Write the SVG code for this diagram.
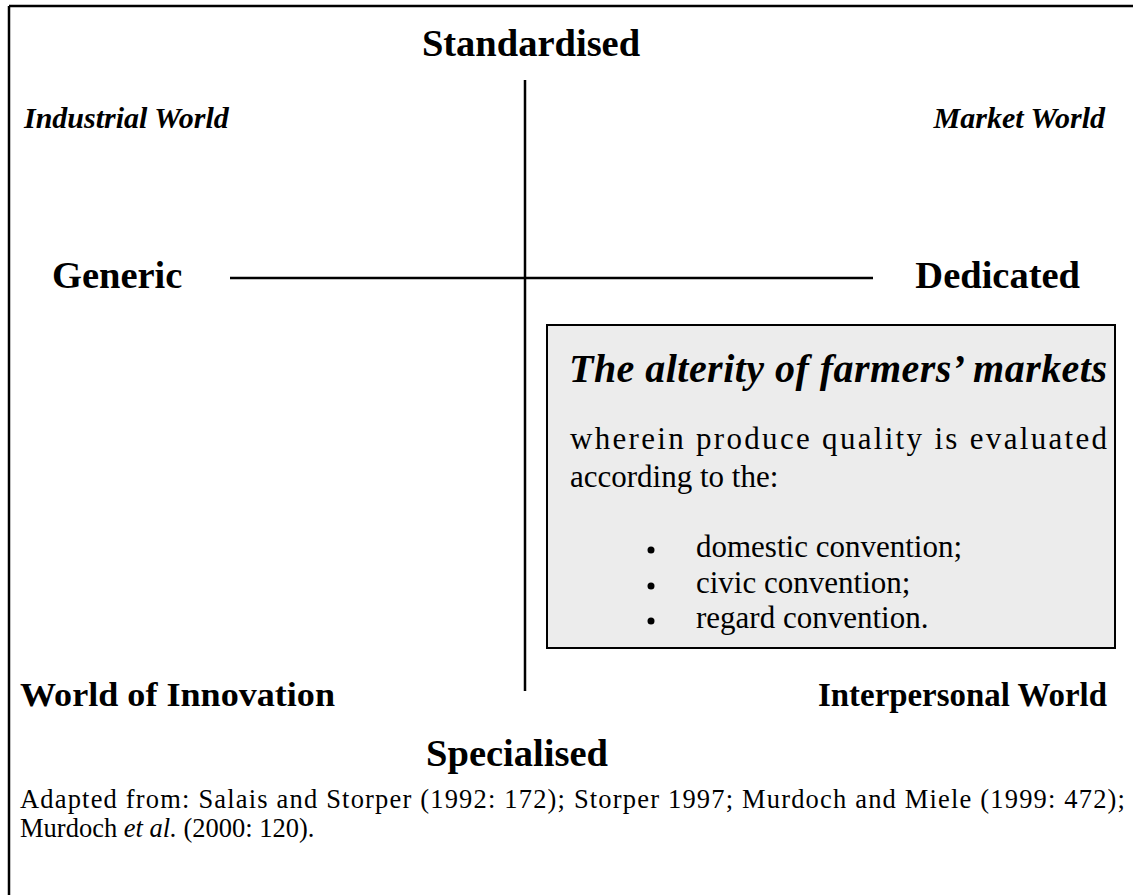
<svg xmlns="http://www.w3.org/2000/svg" width="1133" height="895" viewBox="0 0 1133 895">
  <style>
    .t { font-family: "Liberation Serif", "Times New Roman", serif; fill: #000; }
    .axis { font-size: 38.5px; font-weight: bold; }
    .world { font-size: 30px; font-weight: bold; font-style: italic; }
    .world2 { font-size: 34px; font-weight: bold; }
    .body { font-size: 31px; }
    .note { font-size: 26.5px; }
    .line { stroke: #000; stroke-width: 2.5; fill: none; }
  </style>

  <rect width="1133" height="895" fill="#fff"/>

  <!-- frame: top and left rules -->
  <g id="frame">
    <path class="line" d="M9 6 H1133 M9 6 V895" stroke-width="3"/>
  </g>

  <!-- axes -->
  <g id="connectors">
    <line class="line" x1="525" y1="80" x2="525" y2="691"/>
    <line class="line" x1="230" y1="278" x2="873" y2="278"/>
  </g>

  <g id="standardised"><text class="t axis" x="531" y="56" text-anchor="middle">Standardised</text></g>
  <g id="specialised"><text class="t axis" x="517" y="766" text-anchor="middle">Specialised</text></g>
  <g id="generic"><text class="t axis" x="52" y="288">Generic</text></g>
  <g id="dedicated"><text class="t axis" x="1080" y="288" text-anchor="end">Dedicated</text></g>

  <g id="industrial-world"><text class="t world" x="24" y="128">Industrial World</text></g>
  <g id="market-world"><text class="t world" x="1105" y="128" text-anchor="end">Market World</text></g>
  <g id="world-of-innovation"><text class="t world2" x="20" y="706" textLength="315" lengthAdjust="spacingAndGlyphs">World of Innovation</text></g>
  <g id="interpersonal-world"><text class="t world2" x="818" y="706" textLength="289" lengthAdjust="spacingAndGlyphs">Interpersonal World</text></g>

  <!-- shaded box -->
  <g id="farmers-markets">
    <rect x="547" y="325" width="568" height="323" fill="#ececec" stroke="#000" stroke-width="2"/>
    <text class="t" x="569" y="382" font-size="40" font-weight="bold" font-style="italic" textLength="538" lengthAdjust="spacing">The alterity of farmers’ markets</text>
    <text class="t body" x="570" y="449" textLength="537" lengthAdjust="spacing">wherein produce quality is evaluated</text>
    <text class="t body" x="570" y="487">according to the:</text>
    <circle cx="651" cy="550" r="3.5" fill="#000"/>
    <circle cx="651" cy="586" r="3.5" fill="#000"/>
    <circle cx="651" cy="621" r="3.5" fill="#000"/>
    <text class="t body" x="696" y="557">domestic convention;</text>
    <text class="t body" x="696" y="593">civic convention;</text>
    <text class="t body" x="696" y="628">regard convention.</text>
  </g>

  <g id="source">
    <text class="t note" x="20" y="808" textLength="1105" lengthAdjust="spacing">Adapted from: Salais and Storper (1992: 172); Storper 1997; Murdoch and Miele (1999: 472);</text>
    <text class="t note" x="20" y="837">Murdoch <tspan font-style="italic">et al.</tspan> (2000: 120).</text>
  </g>
</svg>
